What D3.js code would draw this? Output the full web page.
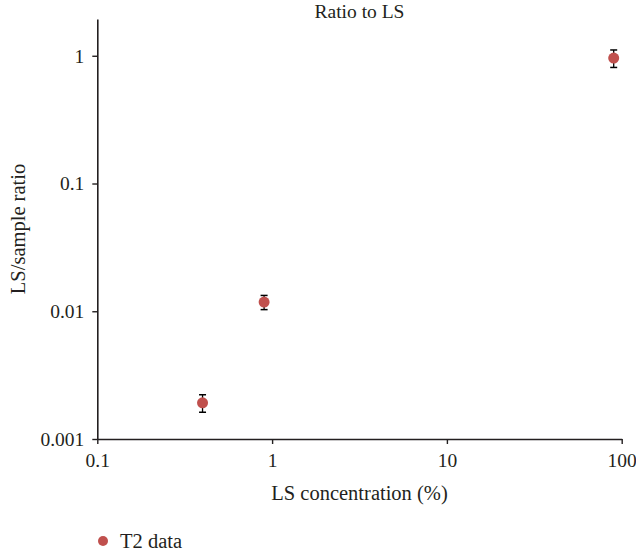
<!DOCTYPE html>
<html>
<head>
<meta charset="utf-8">
<script src="https://cdn.jsdelivr.net/npm/d3@7"></script>
<style>
  html, body { margin: 0; padding: 0; background: #fff; }
</style>
</head>
<body>
<svg id="chart" width="636" height="556"></svg>
<script>
// LS concentration (%) and LS/sample ratio with error bars
const concentration = [0.4, 0.9, 90];
const ratio = [0.00192, 0.0118, 0.96];
const ratioError = [0.0003, 0.0015, 0.15];
const xTicks = [0.1, 1, 10, 100];
const yTicks = [0.001, 0.01, 0.1, 1];
const xTickLabels = ["0.1", "1", "10", "100"];
const yTickLabels = ["0.001", "0.01", "0.1", "1"];
const seriesName = "T2 data";

const serif = "Liberation Serif";
const ink = "#231f20";
const svg = d3.select("#chart");
const margin = { left: 97.3, right: 14.3, top: 19, bottom: 117 };
const W = 636, H = 556;

const x = d3.scaleLog().domain([0.1, 100]).range([margin.left, W - margin.right]);
const y = d3.scaleLog().domain([0.001, 1.94]).range([H - margin.bottom, margin.top]);

const color = "#c0504d";
const tickFont = 19.5;
const titleFont = 20.5;

// x axis
const xAxis = svg.append("g")
  .attr("transform", `translate(0,${H - margin.bottom})`)
  .call(d3.axisBottom(x).tickValues(xTicks).tickFormat((d, i) => xTickLabels[i]).tickSize(5).tickSizeOuter(0));
// y axis
const yAxis = svg.append("g")
  .attr("transform", `translate(${margin.left},0)`)
  .call(d3.axisLeft(y).tickValues(yTicks).tickFormat((d, i) => yTickLabels[i]).tickSize(5).tickSizeOuter(0));

[xAxis, yAxis].forEach(g => {
  g.attr("font-family", null).attr("font-size", null);
  g.select(".domain").attr("stroke", ink).attr("stroke-width", 1.6);
  g.selectAll(".tick line").attr("stroke", ink).attr("stroke-width", 1.4);
  g.selectAll(".tick text")
    .attr("font-family", serif).attr("font-size", tickFont)
    .attr("fill", ink);
});
xAxis.selectAll(".tick text").attr("dy", "1.0em");
yAxis.selectAll(".tick text").attr("x", -13).attr("dy", "0.33em");

// title and axis titles
svg.append("text")
  .attr("x", (margin.left + W - margin.right) / 2).attr("y", 18)
  .attr("text-anchor", "middle").attr("font-family", serif).attr("font-size", 19.5).attr("fill", ink)
  .text("Ratio to LS");
svg.append("text")
  .attr("x", (margin.left + W - margin.right) / 2).attr("y", 500)
  .attr("text-anchor", "middle").attr("font-family", serif).attr("font-size", titleFont).attr("fill", ink)
  .text("LS concentration (%)");
svg.append("text")
  .attr("transform", `translate(25,${(margin.top + H - margin.bottom) / 2}) rotate(-90)`)
  .attr("text-anchor", "middle").attr("font-family", serif).attr("font-size", titleFont).attr("fill", ink)
  .text("LS/sample ratio");

// points with error bars
const data = concentration.map((c, i) => ({ c, r: ratio[i], e: ratioError[i] }));
const pts = svg.append("g").selectAll("g").data(data).join("g");
pts.append("line")
  .attr("x1", d => x(d.c)).attr("x2", d => x(d.c))
  .attr("y1", d => y(d.r + d.e)).attr("y2", d => y(d.r - d.e))
  .attr("stroke", "#000").attr("stroke-width", 1.3);
[1, -1].forEach(s => {
  pts.append("line")
    .attr("x1", d => x(d.c) - 3.5).attr("x2", d => x(d.c) + 3.5)
    .attr("y1", d => y(d.r + s * d.e)).attr("y2", d => y(d.r + s * d.e))
    .attr("stroke", "#000").attr("stroke-width", 1.5);
});
pts.append("circle")
  .attr("cx", d => x(d.c)).attr("cy", d => y(d.r))
  .attr("r", 5.5).attr("fill", color);

// legend
const legend = svg.append("g").attr("transform", "translate(103,541)");
legend.append("circle").attr("r", 5).attr("fill", color);
legend.append("text").attr("x", 17).attr("y", 6.5)
  .attr("font-family", serif).attr("font-size", titleFont).attr("fill", ink)
  .text(seriesName);
</script>
</body>
</html>
